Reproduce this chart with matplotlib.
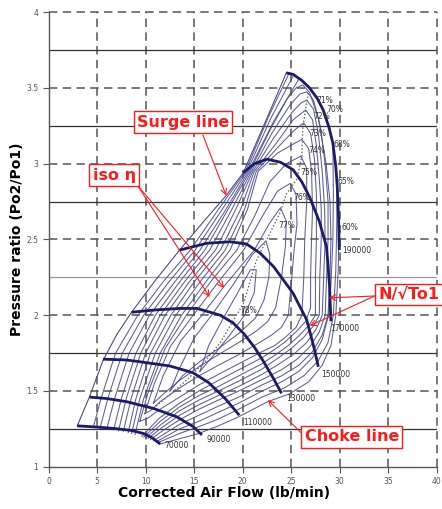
import matplotlib
matplotlib.use("Agg")
import matplotlib.pyplot as plt

# speed lines (corrected speed, rpm) - x: air flow, y: pressure ratio
speed_labels = ["70000", "90000", "110000", "130000", "150000", "170000", "190000"]
s70 = [(2.95, 1.27), (5, 1.262), (6.7, 1.253), (8.5, 1.24), (9.75, 1.22), (10.7, 1.19), (11.5, 1.15)]
s90 = [(4.2, 1.46), (6, 1.45), (8, 1.43), (10.8, 1.385), (13.2, 1.33), (14.9, 1.265), (15.8, 1.21)]
s110 = [(5.6, 1.71), (8, 1.705), (9.75, 1.69), (12.5, 1.665), (14.9, 1.62), (16.5, 1.555), (18.2, 1.45), (19.65, 1.34)]
s130 = [(8.55, 2.02), (11, 2.035), (13.5, 2.045), (15.3, 2.045), (17.7, 2.0), (19, 1.95), (20.1, 1.88),
        (21.2, 1.79), (22.1, 1.70), (23.2, 1.58), (24.0, 1.485)]
s150 = [(13.5, 2.43), (16.3, 2.475), (18.7, 2.485), (20.4, 2.47), (21.8, 2.41), (23.2, 2.32), (25.2, 2.145),
        (26.6, 1.97), (27.3, 1.8), (27.8, 1.66)]
s170 = [(20.06, 2.94), (21.2, 3.0), (22.5, 3.03), (23.9, 3.01), (25.2, 2.96), (26.1, 2.88), (26.9, 2.78),
        (27.9, 2.62), (28.65, 2.45), (28.95, 2.2), (29.1, 1.96)]
s190 = [(24.5, 3.6), (25.2, 3.59), (26.1, 3.55), (26.9, 3.5), (27.7, 3.43), (28.3, 3.355), (28.9, 3.24),
        (29.3, 3.135), (29.6, 2.98), (29.75, 2.85), (29.88, 2.65), (29.96, 2.43)]
speed_lines = [s70, s90, s110, s130, s150, s170, s190]
speed_label_pos = [(13.2, 1.14), (17.5, 1.18), (21.6, 1.29), (26.0, 1.45), (29.6, 1.61), (30.5, 1.91), (31.8, 2.43)]

surge = [(2.95, 1.27), (4.2, 1.46), (5.6, 1.70), (7, 1.87), (8.55, 2.02), (11, 2.23), (13.5, 2.43),
         (16, 2.62), (18.3, 2.79), (20.06, 2.94), (22.3, 3.27), (24.5, 3.60)]

# iso-efficiency lines, outer pieces cut by the map boundary
outer_l1 = [(4.6, 1.26), (5.4, 1.45), (6.9, 1.75), (9.2, 2.0), (11.8, 2.22), (14.6, 2.43), (17.3, 2.68),
            (20.3, 2.95), (22.6, 3.3), (24.8, 3.6)]
outer_l2 = [(5.3, 1.255), (6.1, 1.45), (7.6, 1.75), (9.8, 2.0), (12.4, 2.22), (15.1, 2.43), (17.7, 2.68),
            (20.45, 2.95), (22.9, 3.3), (25.3, 3.59)]
outer_l3 = [(6.0, 1.25), (6.8, 1.45), (8.3, 1.75), (10.4, 2.0), (13.0, 2.22), (15.6, 2.43), (18.1, 2.68),
            (20.6, 2.95), (23.2, 3.28), (25.8, 3.56)]
outer_r68 = [(29.3, 3.13), (29.35, 2.8), (29.3, 2.5), (29.1, 2.2), (28.85, 2.0), (28.2, 1.84), (27.2, 1.72),
             (25.8, 1.63), (24, 1.56), (22, 1.5), (19.6, 1.42), (17.5, 1.36), (15.5, 1.3), (13.5, 1.25), (11.1, 1.165)]
outer_r65 = [(29.72, 2.88), (29.7, 2.6), (29.6, 2.3), (29.35, 2.0), (28.8, 1.82), (27.8, 1.7), (26.3, 1.6),
             (24.3, 1.52), (22, 1.46), (19.6, 1.38), (17.5, 1.315), (15.5, 1.265), (13.5, 1.22), (11.3, 1.16)]
outer_r60 = [(29.93, 2.57), (29.85, 2.3), (29.6, 2.0), (29.1, 1.8), (28.2, 1.67), (26.8, 1.56), (24.8, 1.48),
             (22.6, 1.43), (22, 1.41), (19.6, 1.33), (17.5, 1.27), (15.5, 1.22), (13.5, 1.185), (11.5, 1.15)]

# iso-efficiency loops reaching the top of the map
iso_70 = [(6.7, 1.243), (7.5, 1.45), (9.0, 1.75), (11.0, 2.0), (13.5, 2.22), (16.1, 2.43), (18.5, 2.7),
          (20.75, 2.95), (22.8, 3.22), (24.6, 3.43), (25.5, 3.5), (26.2, 3.52), (26.9, 3.47), (27.8, 3.3),
          (28.6, 3.0), (29.0, 2.75), (29.1, 2.5), (29.0, 2.25), (28.8, 2.0), (28.2, 1.87), (27.2, 1.76),
          (25.8, 1.67), (24, 1.6), (22, 1.54), (19.6, 1.46), (17.5, 1.4), (15.5, 1.34), (13.5, 1.28),
          (12, 1.22), (10.8, 1.172)]
iso_71 = [(7.2, 1.237), (8.0, 1.45), (9.5, 1.75), (11.5, 2.0), (14, 2.22), (16.6, 2.43), (18.9, 2.7),
          (20.9, 2.95), (23, 3.2), (24.9, 3.39), (25.9, 3.46), (26.6, 3.475), (27.3, 3.42), (28.0, 3.25),
          (28.5, 3.0), (28.8, 2.75), (28.8, 2.5), (28.65, 2.25), (28.5, 2.0), (27.9, 1.89), (26.9, 1.79),
          (25.6, 1.71), (24, 1.64), (22, 1.575), (19.6, 1.5), (17.5, 1.44), (15.5, 1.38), (13.5, 1.31),
          (11.8, 1.24), (10.5, 1.18)]
iso_72 = [(7.7, 1.233), (8.5, 1.45), (10.0, 1.75), (12.0, 2.0), (14.5, 2.22), (17.2, 2.43), (19.3, 2.7),
          (21.05, 2.95), (23.2, 3.17), (25.1, 3.34), (26.0, 3.4), (26.6, 3.42), (27.3, 3.36), (27.8, 3.2),
          (28.2, 2.95), (28.45, 2.7), (28.5, 2.5), (28.35, 2.25), (28.2, 2.0), (27.6, 1.91), (26.6, 1.82),
          (25.3, 1.745), (23.8, 1.68), (22, 1.61), (19.6, 1.53), (17.5, 1.47), (15.5, 1.41), (13.5, 1.34),
          (11.7, 1.26), (10.25, 1.187)]
iso_73 = [(8.2, 1.225), (9.0, 1.45), (10.5, 1.75), (12.6, 2.0), (15.0, 2.22), (17.7, 2.43), (19.8, 2.7),
          (21.2, 2.95), (23.4, 3.13), (25.2, 3.29), (26.5, 3.355), (27.2, 3.29), (27.6, 3.12), (27.9, 2.9),
          (28.1, 2.7), (28.1, 2.5), (27.95, 2.25), (27.9, 2.0), (27.3, 1.93), (26.3, 1.855), (25.0, 1.78),
          (23.6, 1.715), (22, 1.645), (19.6, 1.565), (17.5, 1.5), (15.5, 1.44), (13.5, 1.37), (11.6, 1.28),
          (10.0, 1.19)]
iso_74 = [(8.55, 1.22), (9.4, 1.45), (11.0, 1.75), (13.1, 2.0), (15.6, 2.22), (18.2, 2.43), (20.2, 2.7),
          (21.4, 2.95), (23.5, 3.1), (25.3, 3.22), (26.3, 3.27), (27.0, 3.2), (27.4, 3.03), (27.6, 2.8),
          (27.6, 2.5), (27.5, 2.25), (27.5, 2.0), (26.9, 1.94), (25.9, 1.87), (24.7, 1.8), (23.4, 1.74),
          (22, 1.68), (19.6, 1.6), (17.5, 1.53), (15.5, 1.47), (13.5, 1.395), (11.5, 1.3), (9.8, 1.195)]
iso_745 = [(8.9, 1.213), (9.8, 1.45), (11.5, 1.75), (13.7, 2.0), (16.2, 2.22), (18.7, 2.43), (20.5, 2.7),
           (21.6, 2.95), (23.6, 3.07), (25.2, 3.13), (26.1, 3.16), (26.8, 3.1), (27.1, 2.95), (27.2, 2.7),
           (27.1, 2.5), (27.0, 2.25), (27.0, 2.05), (26.5, 1.96), (25.5, 1.89), (24.3, 1.82), (23.2, 1.77),
           (22, 1.72), (19.6, 1.64), (17.5, 1.57), (15.5, 1.5), (13.5, 1.42), (11.4, 1.32), (9.6, 1.2)]

# closed efficiency islands
iso_75 = [(9.4, 1.3), (10.3, 1.5), (12.0, 1.78), (14.2, 2.0), (16.8, 2.23), (19.4, 2.43), (21.2, 2.65),
          (22.8, 2.88), (24.5, 3.0), (26.0, 3.05), (26.6, 2.97), (26.6, 2.75), (26.4, 2.5), (26.3, 2.25),
          (26.1, 2.0), (25.5, 1.92), (24.5, 1.86), (23.3, 1.8), (22, 1.76), (19.6, 1.68), (17.5, 1.61),
          (15.5, 1.54), (13.5, 1.46), (11.5, 1.38), (10.2, 1.32), (9.4, 1.3)]
iso_76 = [(9.9, 1.35), (10.9, 1.55), (12.6, 1.8), (14.9, 2.0), (17.5, 2.22), (20.1, 2.43), (22.0, 2.65),
          (23.6, 2.82), (24.9, 2.87), (25.5, 2.8), (25.6, 2.6), (25.3, 2.43), (25.0, 2.2), (24.7, 2.0),
          (24.0, 1.92), (23.0, 1.87), (22, 1.83), (19.6, 1.74), (17.5, 1.67), (15.5, 1.6), (13.5, 1.52),
          (11.5, 1.43), (10.5, 1.37), (9.9, 1.35)]
iso_77 = [(10.8, 1.42), (11.8, 1.6), (13.6, 1.83), (15.8, 2.0), (18.2, 2.2), (21.2, 2.43), (22.7, 2.6),
          (23.9, 2.71), (24.5, 2.62), (24.4, 2.45), (24.0, 2.25), (23.4, 2.05), (22.6, 1.96), (21.5, 1.9),
          (19.6, 1.82), (17.5, 1.74), (15.5, 1.66), (13.5, 1.57), (12, 1.49), (10.8, 1.42)]
iso_78 = [(12.5, 1.5), (13.5, 1.65), (15, 1.85), (16.8, 2.0), (19, 2.2), (21, 2.4), (22.4, 2.49),
          (22.8, 2.4), (22.7, 2.25), (22.2, 2.1), (21.3, 1.98), (19.6, 1.88), (17.5, 1.78), (15.5, 1.69),
          (13.8, 1.6), (12.5, 1.5)]
iso_79 = [(15.6, 1.63), (16.5, 1.8), (18, 1.98), (19.5, 2.15), (20.8, 2.3), (21.4, 2.3), (21.2, 2.15),
          (20.2, 2.0), (18.8, 1.88), (17.2, 1.75), (15.6, 1.63)]
iso_lines = [outer_l1, outer_l2, outer_l3, outer_r68, outer_r65, outer_r60, iso_70, iso_71, iso_72,
             iso_73, iso_74, iso_745, iso_75, iso_76, iso_77, iso_78, iso_79]

# locus of iso-efficiency peaks (dotted)
peak_locus = [(11.1, 1.40), (14.2, 1.57), (16.2, 1.70), (17.7, 1.82), (20.1, 2.08), (21.4, 2.36),
              (22.8, 2.54), (23.8, 2.67), (24.5, 2.80), (25.6, 2.90), (26.1, 3.05), (26.2, 3.24),
              (26.6, 3.40), (26.8, 3.48)]

eff_labels = ["71%", "70%", "72%", "73%", "68%", "74%", "75%", "65%", "76%", "77%", "60%", "78%"]
eff_label_pos = [(28.5, 3.42), (29.5, 3.36), (28.1, 3.31), (27.7, 3.20), (30.2, 3.13), (27.6, 3.09),
                 (26.8, 2.94), (30.65, 2.88), (26.1, 2.78), (24.5, 2.59), (31.1, 2.58), (20.6, 2.03)]

x_ticks = [0, 5, 10, 15, 20, 25, 30, 35, 40]
y_ticks = [1, 1.5, 2, 2.5, 3, 3.5, 4]
y_minor = [1.25, 1.75, 2.25, 2.75, 3.25, 3.75]

thin_col = "#4b4b8c"
thick_col = "#1b1b68"
red = "#ff1a1a"

fig = plt.figure(figsize=(4.42, 5.09), dpi=100)
ax = fig.add_axes([0.110, 0.083, 0.878, 0.893])
ax.set_xlim(0, 40)
ax.set_ylim(1, 4)

# grid
for x in x_ticks[1:]:
    ax.axvline(x, color="#555555", lw=1.1, ls=(0, (5.5, 3.5)), zorder=1, clip_on=False)
for y in y_ticks[1:]:
    ax.axhline(y, color="#555555", lw=1.1, ls=(0, (5.5, 3.5)), zorder=1, clip_on=False)
for y in y_minor:
    c = "#999999" if y == 2.25 else "#333333"
    ax.axhline(y, color=c, lw=0.9, zorder=1)

for pts in iso_lines:
    xs, ys = zip(*pts)
    ax.plot(xs, ys, color=thin_col, lw=0.75, alpha=0.9, zorder=2)
xs, ys = zip(*surge)
ax.plot(xs, ys, color=thin_col, lw=0.8, zorder=2)
xs, ys = zip(*peak_locus)
ax.plot(xs, ys, color="#666677", lw=1.0, ls=(0, (1, 1.5)), zorder=2)

for pts, lab, pos in zip(speed_lines, speed_labels, speed_label_pos):
    xs, ys = zip(*pts)
    ax.plot(xs, ys, color=thick_col, lw=2.0, zorder=3, solid_capstyle="butt")
    ax.text(pos[0], pos[1], lab, fontsize=5.5, color="#333333", ha="center", va="center", zorder=4)

for lab, pos in zip(eff_labels, eff_label_pos):
    ax.text(pos[0], pos[1], lab, fontsize=5.5, color="#333333", ha="center", va="center", zorder=4)

# annotations
box = dict(boxstyle="square,pad=0.2", fc="white", ec=red, lw=1.0)
arr = dict(arrowstyle="->", color=red, lw=0.8, shrinkA=0, shrinkB=0)
tkw = dict(color=red, fontsize=11.5, fontweight="bold", va="center", bbox=box, zorder=6)

ax.text(13.85, 3.275, "Surge line", ha="center", **tkw)
ax.annotate("", xy=(18.3, 2.79), xytext=(15.9, 3.19), arrowprops=arr, zorder=5)

ax.text(6.75, 2.925, "iso η", ha="center", **tkw)
ax.annotate("", xy=(16.6, 2.12), xytext=(9.13, 2.86), arrowprops=arr, zorder=5)
ax.annotate("", xy=(18.1, 2.18), xytext=(9.13, 2.86), arrowprops=arr, zorder=5)

ax.text(34.0, 2.135, "N/√To1", ha="left", clip_on=False, **tkw)
ax.annotate("", xy=(28.9, 2.115), xytext=(33.6, 2.127), arrowprops=arr, zorder=5)
ax.annotate("", xy=(26.9, 1.93), xytext=(33.6, 2.127), arrowprops=arr, zorder=5)

ax.text(31.25, 1.197, "Choke line", ha="center", **tkw)
ax.annotate("", xy=(22.6, 1.44), xytext=(26.1, 1.22), arrowprops=arr, zorder=5)

ax.set_xticks(x_ticks)
ax.set_yticks(y_ticks)
ax.set_yticklabels(["1", "1.5", "2", "2.5", "3", "3.5", "4"])
ax.tick_params(axis="both", labelsize=5.5, labelcolor="#555555", color="#555555", length=4, width=0.8)
for side in ["top", "right"]:
    ax.spines[side].set_visible(False)
for side in ["left", "bottom"]:
    ax.spines[side].set_color("#555555")
    ax.spines[side].set_linewidth(1.0)

ax.set_xlabel("Corrected Air Flow (lb/min)", fontsize=10, fontweight="bold")
ax.set_ylabel("Pressure ratio (Po2/Po1)", fontsize=10, fontweight="bold")
ax.xaxis.set_label_coords(0.452, -0.042)
ax.yaxis.set_label_coords(-0.064, 0.5)

fig.savefig("out.png", dpi=100)
